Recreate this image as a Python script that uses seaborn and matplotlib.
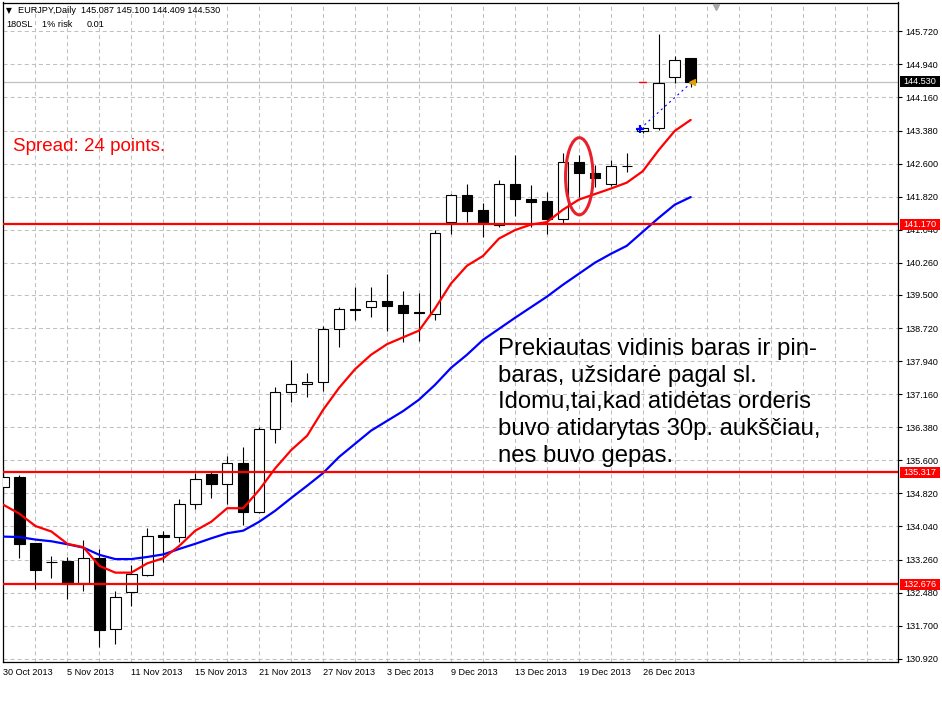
import numpy as np
import pandas as pd
import matplotlib
matplotlib.use("Agg")
import matplotlib.pyplot as plt
import matplotlib.transforms as mtransforms
from matplotlib.patches import Ellipse, Rectangle
import seaborn as sns

# ---------------- data ----------------
dates = ["2013-10-30", "2013-10-31", "2013-11-01", "2013-11-04", "2013-11-05", "2013-11-06",
         "2013-11-07", "2013-11-08", "2013-11-11", "2013-11-12", "2013-11-13", "2013-11-14",
         "2013-11-15", "2013-11-18", "2013-11-19", "2013-11-20", "2013-11-21", "2013-11-22",
         "2013-11-25", "2013-11-26", "2013-11-27", "2013-11-28", "2013-11-29", "2013-12-02",
         "2013-12-03", "2013-12-04", "2013-12-05", "2013-12-06", "2013-12-09", "2013-12-10",
         "2013-12-11", "2013-12-12", "2013-12-13", "2013-12-16", "2013-12-17", "2013-12-18",
         "2013-12-19", "2013-12-20", "2013-12-23", "2013-12-24", "2013-12-26", "2013-12-27",
         "2013-12-30", "2013-12-31"]

opens = [134.98, 135.20, 133.64, 133.21, 133.22, 132.70, 133.29, 131.61, 132.50, 132.90,
         133.83, 133.80, 134.56, 135.27, 135.03, 135.53, 134.39, 136.35, 137.20, 137.39,
         137.44, 138.69, 139.16, 139.22, 139.37, 139.26, 139.09, 139.06, 141.22, 141.85,
         141.50, 141.15, 142.13, 141.76, 141.71, 141.30, 142.64, 142.37, 142.13, 142.54,
         143.36, 143.44, 144.64, 145.087]
highs = [135.44, 135.25, 133.66, 133.34, 133.33, 133.72, 133.51, 132.52, 133.13, 134.01,
         133.94, 134.68, 135.29, 135.32, 135.70, 135.92, 136.39, 137.33, 137.96, 137.65,
         138.77, 139.22, 139.69, 139.69, 139.99, 139.59, 139.54, 141.03, 141.89, 142.13,
         141.66, 142.21, 142.80, 142.09, 141.92, 142.85, 142.80, 142.56, 142.68, 142.85,
         143.47, 145.65, 145.13, 145.100]
lows = [134.74, 133.30, 132.56, 132.83, 132.33, 132.52, 131.20, 131.27, 132.17, 132.88,
        133.21, 133.68, 134.45, 134.72, 134.57, 134.07, 134.35, 136.00, 136.98, 137.10,
        137.24, 138.28, 138.91, 138.98, 138.65, 138.40, 138.42, 138.91, 140.93, 141.22,
        140.87, 141.11, 141.36, 141.11, 140.95, 141.19, 141.81, 142.05, 142.07, 142.40,
        143.33, 143.39, 144.50, 144.409]
closes = [135.20, 133.63, 133.01, 133.20, 132.68, 133.29, 131.60, 132.37, 132.91, 133.82,
          133.79, 134.56, 135.15, 135.03, 135.53, 134.39, 136.35, 137.22, 137.39, 137.44,
          138.69, 139.16, 139.15, 139.37, 139.24, 139.08, 139.07, 140.97, 141.85, 141.48,
          141.19, 142.13, 141.77, 141.70, 141.30, 142.64, 142.37, 142.25, 142.54, 142.55,
          143.45, 144.51, 145.05, 144.530]

ma_red = [134.55, 134.34, 134.05, 133.92, 133.63, 133.55, 133.11, 132.95, 132.95, 133.17,
          133.29, 133.58, 133.94, 134.15, 134.47, 134.47, 134.90, 135.41, 135.84, 136.18,
          136.79, 137.31, 137.75, 138.09, 138.34, 138.50, 138.66, 139.18, 139.77, 140.19,
          140.42, 140.83, 141.03, 141.16, 141.22, 141.51, 141.75, 141.88, 142.01, 142.15,
          142.42, 142.92, 143.37, 143.63]
ma_blue = [133.80, 133.79, 133.73, 133.69, 133.62, 133.54, 133.37, 133.27, 133.27, 133.32,
           133.38, 133.51, 133.63, 133.76, 133.88, 133.94, 134.15, 134.41, 134.71, 135.00,
           135.30, 135.68, 135.99, 136.30, 136.53, 136.76, 137.03, 137.38, 137.78, 138.09,
           138.44, 138.70, 138.96, 139.21, 139.46, 139.74, 140.00, 140.26, 140.47, 140.66,
           140.99, 141.32, 141.63, 141.81]

date_labels = ["30 Oct 2013", "5 Nov 2013", "11 Nov 2013", "15 Nov 2013", "21 Nov 2013",
               "27 Nov 2013", "3 Dec 2013", "9 Dec 2013", "13 Dec 2013", "19 Dec 2013",
               "26 Dec 2013"]
price_ticks = [130.920, 131.700, 132.480, 133.260, 134.040, 134.820, 135.600, 136.380,
               137.160, 137.940, 138.720, 139.500, 140.260, 141.040, 141.820, 142.600,
               143.380, 144.160, 144.940, 145.720]
levels = [141.170, 135.317, 132.676]
bid_price = 144.530
trade_bars = [39.85, 43.1]
trade_prices = [143.425, 144.53]

header1 = "EURJPY,Daily  145.087 145.100 144.409 144.530"
note_lines = ["Prekiautas vidinis baras ir pin-",
              "baras, užsidarė pagal sl.",
              "Idomu,tai,kad atidėtas orderis",
              "buvo atidarytas 30p. aukščiau,",
              "nes buvo gepas."]

# ---------------- style ----------------
sns.set_theme(style="white")
plt.rcParams['font.family'] = ['Liberation Sans', 'DejaVu Sans']
plt.rcParams['lines.scale_dashes'] = False

W, H = 942, 709
fig = plt.figure(figsize=(W / 100, H / 100), dpi=100)
fig.patch.set_facecolor("white")

ax_l, ax_r, ax_t, ax_b = 2.5, 898, 2.5, 662
ax = fig.add_axes([ax_l / W, 1 - ax_b / H, (ax_r - ax_l) / W, (ax_b - ax_t) / H])
ax.set_facecolor("white")

df = pd.DataFrame({"date": pd.to_datetime(dates), "open": opens, "high": highs,
                   "low": lows, "close": closes, "ma_red": ma_red, "ma_blue": ma_blue})
df["idx"] = np.arange(len(df))

ax.set_xlim(-0.06, 55.97)
ax.set_ylim(130.842, 146.40)

# grid
grid_kw = dict(color="#C0C0C0", lw=0.75, ls=(0, (2.9, 2.2)), zorder=0)
for yv in price_ticks:
    ax.axhline(yv, **grid_kw)
for xv in range(0, 56, 2):
    ax.axvline(xv, **grid_kw)

# bid line
ax.axhline(bid_price, color="#C0C0C0", lw=0.9, zorder=1)

# candles
up = df["close"] >= df["open"]
bot = np.minimum(df["open"], df["close"])
hgt = (df["close"] - df["open"]).abs()
ax.vlines(df["idx"], df["low"], df["high"], color="black", lw=0.8, zorder=3)
ax.bar(df["idx"][up], hgt[up], bottom=bot[up], width=0.66, facecolor="white",
       edgecolor="black", linewidth=0.8, zorder=4)
ax.bar(df["idx"][~up], hgt[~up], bottom=bot[~up], width=0.66, facecolor="black",
       edgecolor="black", linewidth=0.8, zorder=4)

# moving averages
sns.lineplot(data=df, x="idx", y="ma_blue", color="#0000FF", lw=1.6, ax=ax, zorder=5)
sns.lineplot(data=df, x="idx", y="ma_red", color="#FF0000", lw=1.6, ax=ax, zorder=5)

# horizontal levels
for lv in levels:
    ax.axhline(lv, color="#FF0000", lw=1.6, zorder=6)

# trade markers
ax.plot(trade_bars, trade_prices, color="#0000FF", lw=0.8, ls=(0, (1.5, 2.5)), zorder=7)
ax.plot([trade_bars[0]], [trade_prices[0]], marker=(4, 2, 0), ms=6, mew=1.5,
        color="#0000FF", zorder=8)
ax.plot([trade_bars[1]], [trade_prices[1]], marker="<", ms=5, color="#E0A000",
        mec="#E0A000", zorder=8)
ax.plot([trade_bars[0] - 0.1, trade_bars[0] + 0.35], [bid_price, bid_price],
        color="#FF0000", lw=1.0, zorder=7)

# ellipse
ax.add_patch(Ellipse((36.03, 142.30), width=1.72, height=1.82, fill=False,
                     ec="#E8202A", lw=2.2, zorder=9))

# axes styling
for s in ax.spines.values():
    s.set_visible(True)
    s.set_color("black")
    s.set_linewidth(0.9)
ax.yaxis.tick_right()
ax.set_yticks(price_ticks, [f"{v:.3f}" for v in price_ticks])
ax.set_xticks(df["idx"].iloc[::4], date_labels, ha="left")
ax.tick_params(axis="both", which="major", labelsize=6.6, length=3, width=0.8,
               color="black", labelcolor="black", direction="out")
ax.tick_params(axis="y", pad=2.5)
ax.tick_params(axis="x", pad=1.5)
ax.set_xlabel("")
ax.set_ylabel("")

# price boxes on the right scale
blend = mtransforms.blended_transform_factory(fig.transFigure, ax.transData)
bh = 11 / 42.36
for lv in levels + [bid_price]:
    fc = "black" if lv == bid_price else "#FF0000"
    ax.add_patch(Rectangle((900 / W, lv - bh / 2), 40 / W, bh, transform=blend,
                           facecolor=fc, edgecolor="none", clip_on=False, zorder=20))
    ax.text(920 / W, lv, f"{lv:.3f}", transform=blend, color="white", fontsize=6.6,
            ha="center", va="center", clip_on=False, zorder=21)

# chart shift marker
ax.plot([(716.7 - 3.5) / 16], [0.993], transform=ax.get_xaxis_transform(), marker="v",
        ms=5, color="#A8A8A8", clip_on=False, zorder=10)

# header texts
fig.text(6 / W, 1 - 13.3 / H, "▼", fontsize=5.5, color="black", va="baseline",
         family=["DejaVu Sans"])
fig.text(18 / W, 1 - 13.3 / H, header1, fontsize=6.6, color="black", va="baseline")
fig.text(6 / W, 1 - 26.7 / H, "180SL", fontsize=6.6, color="black", va="baseline")
fig.text(42 / W, 1 - 26.7 / H, "1% risk", fontsize=6.6, color="black", va="baseline")
fig.text(87 / W, 1 - 26.7 / H, "0.01", fontsize=6.6, color="black", va="baseline")

fig.text(13.3 / W, 1 - 150.7 / H, "Spread: 24 points.", fontsize=13.5, color="#FF0000",
         va="baseline")

for k, line in enumerate(note_lines):
    fig.text(498 / W, 1 - (355 + 26.67 * k) / H, line, fontsize=17.2, color="black",
             va="baseline")

fig.savefig("out.png", dpi=100, facecolor="white")
